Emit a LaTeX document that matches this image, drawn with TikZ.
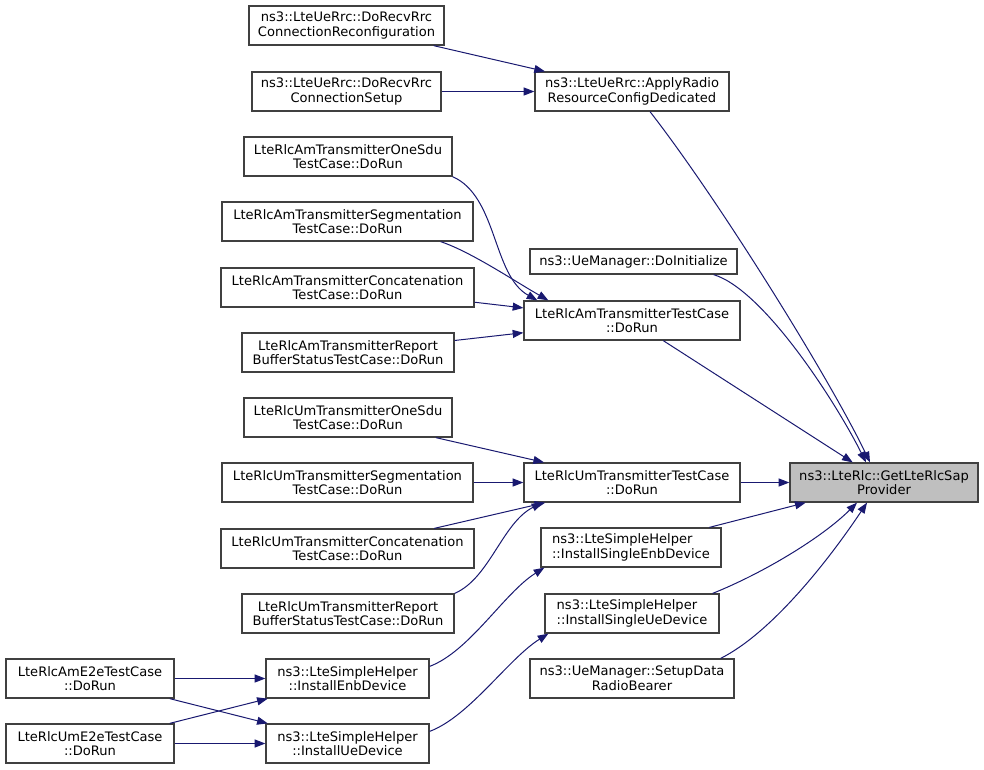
\documentclass[tikz,border=0pt]{standalone}
\usepackage{fontspec}
\setmainfont{DejaVu Sans}
\usepackage{tikz}
\usetikzlibrary{arrows.meta, positioning, calc}
\definecolor{edgeblue}{HTML}{191970}
\definecolor{rootgray}{HTML}{BFBFBF}

\begin{document}
\begin{tikzpicture}[
        x=0.75pt, y=-0.75pt,
        fn/.style={rectangle, draw=black!75, line width=0.95pt, fill=white, inner sep=2pt, align=center, font=\fontsize{9.8pt}{11pt}\selectfont, minimum height=29.25pt},
        wd/.style={minimum width=#1*0.75pt},
        one/.style={minimum height=18.75pt},
        root/.style={fn, fill=rootgray},
        arrow/.style={draw=edgeblue, line width=0.75pt, -{Triangle[length=8pt,width=6pt]}}
    ]
    \useasboundingbox (0,0) rectangle (984,769);

    % --- CALLEE ---
    \node (root) [root, wd=188] at (884,482.5) {ns3::LteRlc::GetLteRlcSap\\Provider};

    % --- RRC ---
    \node (reconf) [fn, wd=195] at (346.5,25.5) {ns3::LteUeRrc::DoRecvRrc\\ConnectionReconfiguration};
    \node (setup) [fn, wd=189] at (346.5,91.5) {ns3::LteUeRrc::DoRecvRrc\\ConnectionSetup};
    \node (apply) [fn, wd=194] at (632,91.5) {ns3::LteUeRrc::ApplyRadio\\ResourceConfigDedicated};

    % --- AM TRANSMITTER ---
    \node (amOne) [fn, wd=208] at (348,156.5) {LteRlcAmTransmitterOneSdu\\TestCase::DoRun};
    \node (amSeg) [fn, wd=251] at (347.5,221.5) {LteRlcAmTransmitterSegmentation\\TestCase::DoRun};
    \node (amConc) [fn, wd=253] at (347.5,287.5) {LteRlcAmTransmitterConcatenation\\TestCase::DoRun};
    \node (amRep) [fn, wd=212] at (348,352.5) {LteRlcAmTransmitterReport\\BufferStatusTestCase::DoRun};
    \node (doInit) [fn, one, wd=207] at (633.5,261.5) {ns3::UeManager::DoInitialize};
    \node (amTC) [fn, wd=216] at (632,320.5) {LteRlcAmTransmitterTestCase\\::DoRun};

    % --- UM TRANSMITTER ---
    \node (umOne) [fn, wd=208] at (348,417.5) {LteRlcUmTransmitterOneSdu\\TestCase::DoRun};
    \node (umSeg) [fn, wd=251] at (347.5,482.5) {LteRlcUmTransmitterSegmentation\\TestCase::DoRun};
    \node (umConc) [fn, wd=253] at (347.5,548.5) {LteRlcUmTransmitterConcatenation\\TestCase::DoRun};
    \node (umRep) [fn, wd=212] at (348,613.5) {LteRlcUmTransmitterReport\\BufferStatusTestCase::DoRun};
    \node (umTC) [fn, wd=216] at (632,482.5) {LteRlcUmTransmitterTestCase\\::DoRun};

    % --- SIMPLE HELPER ---
    \node (sEnb) [fn, wd=180, align=left] at (631,547.5) {ns3::LteSimpleHelper\\::InstallSingleEnbDevice};
    \node (sUe) [fn, wd=174, align=left] at (632,613.5) {ns3::LteSimpleHelper\\::InstallSingleUeDevice};
    \node (setupData) [fn, wd=204] at (632,678.5) {ns3::UeManager::SetupData\\RadioBearer};
    \node (enb) [fn, wd=163] at (347.5,678.5) {ns3::LteSimpleHelper\\::InstallEnbDevice};
    \node (ue) [fn, wd=163] at (347.5,743.5) {ns3::LteSimpleHelper\\::InstallUeDevice};

    % --- E2E ---
    \node (amE2e) [fn, wd=168] at (90,678.5) {LteRlcAmE2eTestCase\\::DoRun};
    \node (umE2e) [fn, wd=168] at (90,743.5) {LteRlcUmE2eTestCase\\::DoRun};

    % --- ARROWS ---
    \draw [arrow] (reconf) -- (apply);
    \draw [arrow] (setup) -- (apply);
    \draw [arrow] ([xshift=13.5pt]apply.south) .. controls +(70,90) and +(-40,-83) .. ([xshift=-10.5pt]root.north);

    \draw [arrow] (amOne.south east) .. controls +(45,20) and +(-45,-25) .. ([xshift=10.5pt]amTC.north west);
    \draw [arrow] ([xshift=-24.75pt]amSeg.south east) .. controls +(30,10) and +(-35,-20) .. ([xshift=18.75pt]amTC.north west);
    \draw [arrow] (amConc) -- (amTC);
    \draw [arrow] (amRep) -- (amTC);
    \draw [arrow] ([xshift=-18pt]doInit.south east) .. controls +(50,15) and +(-30,-60) .. ([xshift=-13.5pt]root.north);
    \draw [arrow] (amTC) -- (root);

    \draw [arrow] (umOne) -- (umTC);
    \draw [arrow] (umSeg) -- (umTC);
    \draw [arrow] (umConc) -- (umTC);
    \draw [arrow] (umRep.north east) .. controls +(35,-15) and +(-40,20) .. ([xshift=14.25pt]umTC.south west);
    \draw [arrow] (umTC) -- (root);

    \draw [arrow] (sEnb) -- (root);
    \draw [arrow] ([xshift=-5.25pt]sUe.north east) .. controls +(50,-20) and +(-35,35) .. ([xshift=-20.25pt]root.south);
    \draw [arrow] ([xshift=-10.5pt]setupData.north east) .. controls +(50,-25) and +(-40,60) .. ([xshift=-12.75pt]root.south);
    \draw [arrow] ([yshift=-6pt]enb.north east) .. controls +(40,-15) and +(-40,25) .. ([xshift=3pt]sEnb.south west);
    \draw [arrow] ([yshift=-6pt]ue.north east) .. controls +(40,-15) and +(-40,25) .. ([xshift=3pt]sUe.south west);

    % --- E2E ARROWS ---
    \draw [arrow] (amE2e) -- (enb);
    \draw [arrow] (amE2e) -- (ue);
    \draw [arrow] (umE2e) -- (enb);
    \draw [arrow] (umE2e) -- (ue);

\end{tikzpicture}
\end{document}
